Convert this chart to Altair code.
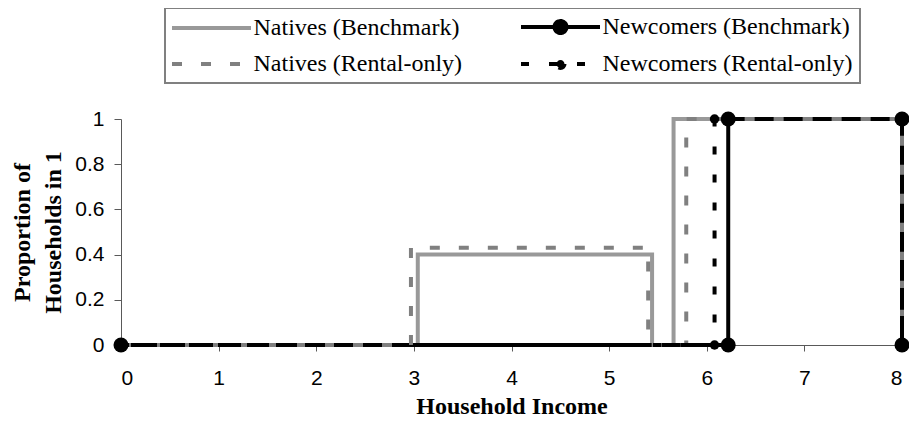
import altair as alt
import pandas as pd

series_names = ["Natives (Benchmark)", "Natives (Rental-only)",
                "Newcomers (Benchmark)", "Newcomers (Rental-only)"]

natives_bench_x = [0, 3.04, 3.04, 5.44, 5.44, 5.66, 5.66, 8, 8]
natives_bench_y = [0, 0, 0.40, 0.40, 0, 0, 1, 1, 0]
natives_rental_x = [0, 2.97, 2.97, 5.40, 5.40, 5.79, 5.79, 8, 8]
natives_rental_y = [0, 0, 0.43, 0.43, 0, 0, 1, 1, 0]
newcomers_bench_x = [0, 6.22, 6.22, 8, 8]
newcomers_bench_y = [0, 0, 1, 1, 0]
newcomers_rental_x = [0, 6.08, 6.08, 8, 8]
newcomers_rental_y = [0, 0, 1, 1, 0]

x_ticks = [0, 1, 2, 3, 4, 5, 6, 7, 8]
y_ticks = [0, 0.2, 0.4, 0.6, 0.8, 1]

NB, NR, WB, WR = series_names

rows = []
for name, xs, ys in [
    (NB, natives_bench_x, natives_bench_y),
    (NR, natives_rental_x, natives_rental_y),
    (WB, newcomers_bench_x, newcomers_bench_y),
    (WR, newcomers_rental_x, newcomers_rental_y),
]:
    for i, (xv, yv) in enumerate(zip(xs, ys)):
        rows.append({"series": name, "i": i, "x": xv, "y": yv})
df = pd.DataFrame(rows)

color_scale = alt.Scale(domain=series_names,
                        range=["#999999", "#808080", "#000000", "#000000"])
dash_scale = alt.Scale(domain=series_names,
                       range=[[1, 0], [10, 19], [1, 0], [8, 20]])
line_path = "M-3.95,0L3.95,0"
big_dot = "M-3.95,0L3.95,0M0.6,0A0.6,0.6,0,1,1,-0.6,0A0.6,0.6,0,1,1,0.6,0Z"
small_dot = "M-3.95,0L3.95,0M0.4,0A0.4,0.4,0,1,1,-0.4,0A0.4,0.4,0,1,1,0.4,0Z"
shape_scale = alt.Scale(domain=series_names,
                        range=[line_path, line_path, big_dot, small_dot])
fill_scale = alt.Scale(domain=series_names,
                       range=["transparent", "transparent", "#000000", "#000000"])

leg = alt.Legend(title=None)

x_enc = alt.X("x:Q", scale=alt.Scale(domain=[0, 8], nice=False),
              title="Household Income",
              axis=alt.Axis(values=x_ticks, format="d", tickSize=6,
                            labelPadding=16, titleY=68,
                            titleBaseline="alphabetic"))
y_enc = alt.Y("y:Q", scale=alt.Scale(domain=[0, 1], nice=False),
              title=["Proportion of", "Households in 1"],
              axis=alt.Axis(values=y_ticks, format="~g", tickSize=7,
                            labelPadding=10, titleX=-92, titleY=113,
                            titleBaseline="alphabetic", titleLineHeight=31,
                            titleAngle=270))

base = alt.Chart(df)

legend_layer = base.transform_filter("false").mark_point(
    filled=False, opacity=1, strokeWidth=4
).encode(
    x=x_enc, y=y_enc,
    color=alt.Color("series:N", scale=color_scale, legend=leg),
    strokeDash=alt.StrokeDash("series:N", scale=dash_scale, legend=leg),
    shape=alt.Shape("series:N", scale=shape_scale, legend=leg),
    fill=alt.Fill("series:N", scale=fill_scale, legend=leg),
)


def line_layer(name):
    return base.transform_filter(alt.datum.series == name).mark_line(
        strokeWidth=4, strokeCap="butt", strokeJoin="miter"
    ).encode(
        x=x_enc, y=y_enc, order="i:Q",
        color=alt.Color("series:N", scale=color_scale, legend=leg),
        strokeDash=alt.StrokeDash("series:N", scale=dash_scale, legend=leg),
    )


bench_pts = base.transform_filter(alt.datum.series == WB).mark_circle(
    size=225, color="#000000", opacity=1).encode(x=x_enc, y=y_enc)
rental_pts = base.transform_filter(alt.datum.series == WR).mark_circle(
    size=90, color="#000000", opacity=1).encode(x=x_enc, y=y_enc)

chart = alt.layer(
    legend_layer,
    line_layer(NB),
    line_layer(WB),
    line_layer(NR),
    line_layer(WR),
    bench_pts,
    rental_pts,
).properties(
    width=781, height=226,
    autosize=alt.AutoSizeParams(type="none"),
    padding={"left": 113, "top": 111, "right": 7, "bottom": 74},
).configure_view(stroke=None).configure_axis(
    grid=False, domainColor="#595959", tickColor="#595959",
    domainWidth=1, tickWidth=1,
    labelFont="Liberation Sans", labelFontSize=21, labelColor="#000000",
    titleFont="Liberation Serif", titleFontSize=24, titleFontWeight="bold",
    titleColor="#000000",
).configure_legend(
    orient="none", legendX=44, legendY=-111, columns=2,
    labelFont="Liberation Serif", labelFontSize=24, labelColor="#000000",
    labelLimit=400,
    symbolSize=400, symbolStrokeWidth=4, symbolOffset=27.5, labelOffset=30,
    columnPadding=50, rowPadding=11, padding=7,
    strokeColor="#808080", strokeWidth=2,
)

chart.save("out.html", embed_options={"renderer": "svg", "actions": False})
